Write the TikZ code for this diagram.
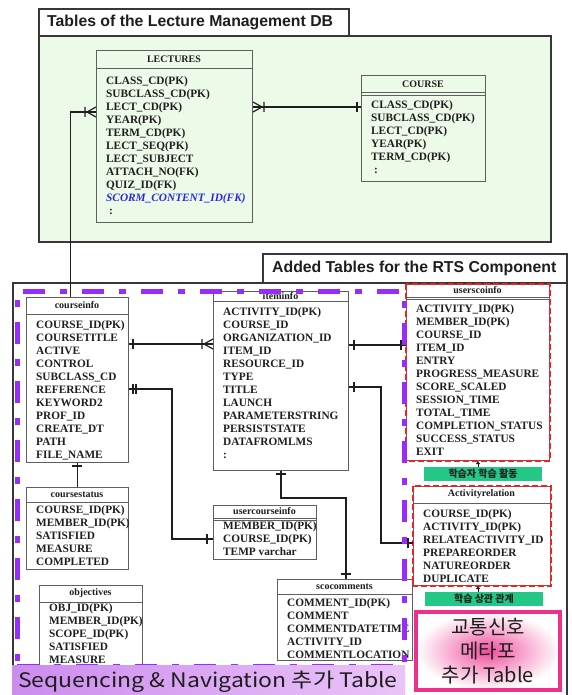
\documentclass[tikz,border=0pt]{standalone}
\usepackage{fontspec}
\setmainfont{Liberation Serif}
\newfontfamily\headingfont{Liberation Sans}
\newfontfamily\hangulfont{Noto Sans CJK KR}
\usetikzlibrary{arrows.meta}

\definecolor{panelgreen}{RGB}{235,251,232}
\definecolor{framegray}{RGB}{55,55,55}
\definecolor{tablegray}{RGB}{95,95,95}
\definecolor{inkblack}{RGB}{30,30,30}
\definecolor{scormblue}{RGB}{40,40,230}
\definecolor{seqviolet}{RGB}{150,45,250}
\definecolor{bandleft}{RGB}{204,140,238}
\definecolor{bandright}{RGB}{234,196,248}
\definecolor{fkred}{RGB}{250,30,30}
\definecolor{labelteal}{RGB}{35,200,135}
\definecolor{signpink}{RGB}{236,48,140}

\tikzset{
  panelbox/.style={draw=framegray, line width=1.8pt, inner sep=0pt, anchor=north west},
  headingtext/.style={font=\headingfont\bfseries\fontsize{15.8}{18}\selectfont, anchor=west, inner sep=0pt, text=inkblack},
  tablebox/.style={draw=tablegray, line width=1pt, inner sep=0pt, anchor=north west},
  tablehead/.style={font=\bfseries\fontsize{10}{12}\selectfont, inner sep=0pt, text=inkblack},
  tablerows/.style={font=\bfseries\fontsize{11.3}{13}\selectfont, align=left, inner sep=0pt, anchor=north west, text=inkblack},
  relline/.style={draw=inkblack, line width=1.5pt},
  fkframe/.style={draw=fkred, line width=1.6pt, dash pattern=on 6pt off 3pt},
  seqframe/.style={draw=seqviolet, line width=4.5pt, dash pattern=on 22pt off 15pt on 7pt off 15pt, inner sep=0pt, anchor=north west},
  tealtag/.style={fill=labelteal, inner sep=0pt, minimum width=118pt, minimum height=14pt, font=\hangulfont\bfseries\fontsize{10}{12}\selectfont, text=inkblack},
  tagarrow/.style={draw=inkblack, line width=0.8pt, -{Triangle[length=3pt,width=4pt]}},
  onebar/.pic={\draw[inkblack, line width=1.4pt] (0,-5) -- (0,5);},
  crowfoot/.pic={\draw[inkblack, line width=1.2pt] (0,-5) -- (-9,0) -- (0,5) (0,0) -- (-9,0) (-11,-5) -- (-11,5);},
}

% #1 name, #2 x, #3 y, #4 width, #5 height, #6 header depth, #7 first row centre, #8 title, #9 rows
\newcommand{\erdtable}[9]{%
  \node[tablebox, minimum width=#4, minimum height=#5] (#1) at (#2,#3) {};
  \draw[tablegray, line width=1pt] (#2,#3+#6) -- (#2+#4,#3+#6);
  \node[tablehead] (#1-head) at (#2+#4/2,#3+#6/2) {#8};
  \node[tablerows] (#1-rows) at (#2+10,#7-5.3) {\rule{0pt}{9pt}#9};
}

\begin{document}
\begin{tikzpicture}[x=1pt,y=-1pt]
\useasboundingbox (0,0) rectangle (572,695);

% ---------- Lecture Management DB ----------
\node[panelbox, fill=panelgreen, minimum width=512, minimum height=206] (lmdb) at (38,35) {};
\node[panelbox, fill=white, minimum width=310, minimum height=27] (lmdbtab) at (38,8) {};
\node[headingtext] (lmdbtitle) at (47,22) {Tables of the Lecture Management DB};

% ---------- RTS component ----------
\node[panelbox, fill=white, minimum width=554, minimum height=420] (rts) at (12,282) {};
\node[panelbox, fill=white, minimum width=304, minimum height=29] (rtstab) at (262,253) {};
\node[headingtext] (rtstitle) at (272,268) {Added Tables for the RTS Component};

% ---------- tables ----------
\erdtable{lect}{96}{50}{156}{172}{19}{81}{LECTURES}{CLASS\_CD(PK)\\SUBCLASS\_CD(PK)\\LECT\_CD(PK)\\YEAR(PK)\\TERM\_CD(PK)\\LECT\_SEQ(PK)\\LECT\_SUBJECT\\ATTACH\_NO(FK)\\QUIZ\_ID(FK)\\{\color{scormblue}\itshape SCORM\_CONTENT\_ID(FK)}\\\hspace{3pt}:}
\erdtable{course}{361}{75}{124}{106}{18}{105}{COURSE}{CLASS\_CD(PK)\\SUBCLASS\_CD(PK)\\LECT\_CD(PK)\\YEAR(PK)\\TERM\_CD(PK)\\\hspace{3pt}:}
\draw[tablegray, line width=1pt] (course.north west |- 0,95.5) -- (course.north east |- 0,95.5);

\erdtable{cinfo}{26}{297}{102}{165}{17}{325}{courseinfo}{COURSE\_ID(PK)\\COURSETITLE\\ACTIVE\\CONTROL\\SUBCLASS\_CD\\REFERENCE\\KEYWORD2\\PROF\_ID\\CREATE\_DT\\PATH\\FILE\_NAME}
\erdtable{iinfo}{213}{291}{135}{179}{10}{312}{iteminfo}{ACTIVITY\_ID(PK)\\COURSE\_ID\\ORGANIZATION\_ID\\ITEM\_ID\\RESOURCE\_ID\\TYPE\\TITLE\\LAUNCH\\PARAMETERSTRING\\PERSISTSTATE\\DATAFROMLMS\\:}
\erdtable{usco}{406}{284}{143}{176}{13}{309}{userscoinfo}{ACTIVITY\_ID(PK)\\MEMBER\_ID(PK)\\COURSE\_ID\\ITEM\_ID\\ENTRY\\PROGRESS\_MEASURE\\SCORE\_SCALED\\SESSION\_TIME\\TOTAL\_TIME\\COMPLETION\_STATUS\\SUCCESS\_STATUS\\EXIT}
\draw[tablegray, line width=1pt] (usco.north west |- 0,299) -- (usco.north east |- 0,299);
\erdtable{cstat}{26}{487}{102}{82}{15}{510}{coursestatus}{COURSE\_ID(PK)\\MEMBER\_ID(PK)\\SATISFIED\\MEASURE\\COMPLETED}
\erdtable{objv}{39}{585}{103}{100}{17}{608}{objectives}{OBJ\_ID(PK)\\MEMBER\_ID(PK)\\SCOPE\_ID(PK)\\SATISFIED\\MEASURE}
\erdtable{ucinfo}{213}{505}{103}{54}{13}{526}{usercourseinfo}{MEMBER\_ID(PK)\\COURSE\_ID(PK)\\TEMP varchar}
\draw[tablegray, line width=1pt] (ucinfo.north west |- 0,520) -- (ucinfo.north east |- 0,520);
\erdtable{scoc}{277}{579}{135}{81}{15}{603}{scocomments}{COMMENT\_ID(PK)\\COMMENT\\COMMENTDATETIME\\ACTIVITY\_ID\\COMMENTLOCATION}
\erdtable{arel}{413}{486}{137}{99}{17}{514}{Activityrelation}{COURSE\_ID(PK)\\ACTIVITY\_ID(PK)\\RELATEACTIVITY\_ID\\PREPAREORDER\\NATUREORDER\\DUPLICATE}

% dashed red frames around the two traffic-signal tables
\draw[fkframe] (usco.north west) rectangle (usco.south east);
\draw[fkframe] (arel.north west) rectangle (arel.south east);

% ---------- relationships ----------
\draw[relline] (lect.east |- 0,107) -- (course.west |- 0,107);
\pic[xscale=-1] at (lect.east |- 0,107) {crowfoot};
\pic at (357,107) {onebar};

\draw[relline] (lect.west |- 0,112) -| ([xshift=-7pt]cinfo.north);
\pic at (lect.west |- 0,112) {crowfoot};

\draw[relline] (cinfo.east |- 0,344) -- (iinfo.west |- 0,344);
\pic at (133,344) {onebar};
\pic at (iinfo.west |- 0,344) {crowfoot};

\draw[relline] (cinfo.east |- 0,389) -| (172,539) -- (ucinfo.west |- 0,539);
\pic at (133,389) {onebar};
\pic at (136,389) {onebar};
\pic at (207,539) {onebar};

\draw[relline] (cinfo.south) -- (cstat.north);
\pic[rotate=90] at (77,466) {onebar};

\draw[relline] (iinfo.east |- 0,345) -- (usco.west |- 0,345);
\pic at (354,345) {onebar};
\pic at (401,345) {onebar};

\draw[relline] (iinfo.east |- 0,387) -| (381,543) -- (arel.west |- 0,543);
\pic at (354,387) {onebar};
\pic at (408,543) {onebar};

\draw[relline] (iinfo.south -| 281,0) |- (346,498) -- (scoc.north -| 346,0);
\pic[rotate=90] at (281,474) {onebar};
\pic[rotate=90] at (346,574) {onebar};

% ---------- sequencing & navigation group ----------
\node[seqframe, minimum width=387, minimum height=375] (seqarea) at (15,289) {};
\node[anchor=north west, inner sep=0pt, minimum width=393, minimum height=32, left color=bandleft, right color=bandright] (seqband) at (12,665) {};
\node[font=\hangulfont\fontsize{20}{24}\selectfont, text=inkblack, inner sep=0pt] (seqtitle) at (208,682) {\scalebox{1.15}[1]{Sequencing \& Navigation 추가 Table}};

% ---------- traffic-signal metaphor tables ----------
\node[tealtag] (tag1) at (483,474) {학습자 학습 활동};
\node[tealtag] (tag2) at (484,599) {학습 상관 관계};
\draw[tagarrow] (tag1.north -| 478,0) -- (usco.south -| 478,0);
\draw[tagarrow] (tag2.north -| 478,0) -- (arel.south -| 478,0);

\node[draw=signpink, line width=4pt, minimum width=144, minimum height=78, inner color=signpink!85, outer color=white, align=center, font=\hangulfont\fontsize{20}{24}\selectfont, text=inkblack] (signal) at (488,651) {교통신호\\메타포\\추가 Table};
\end{tikzpicture}
\end{document}
